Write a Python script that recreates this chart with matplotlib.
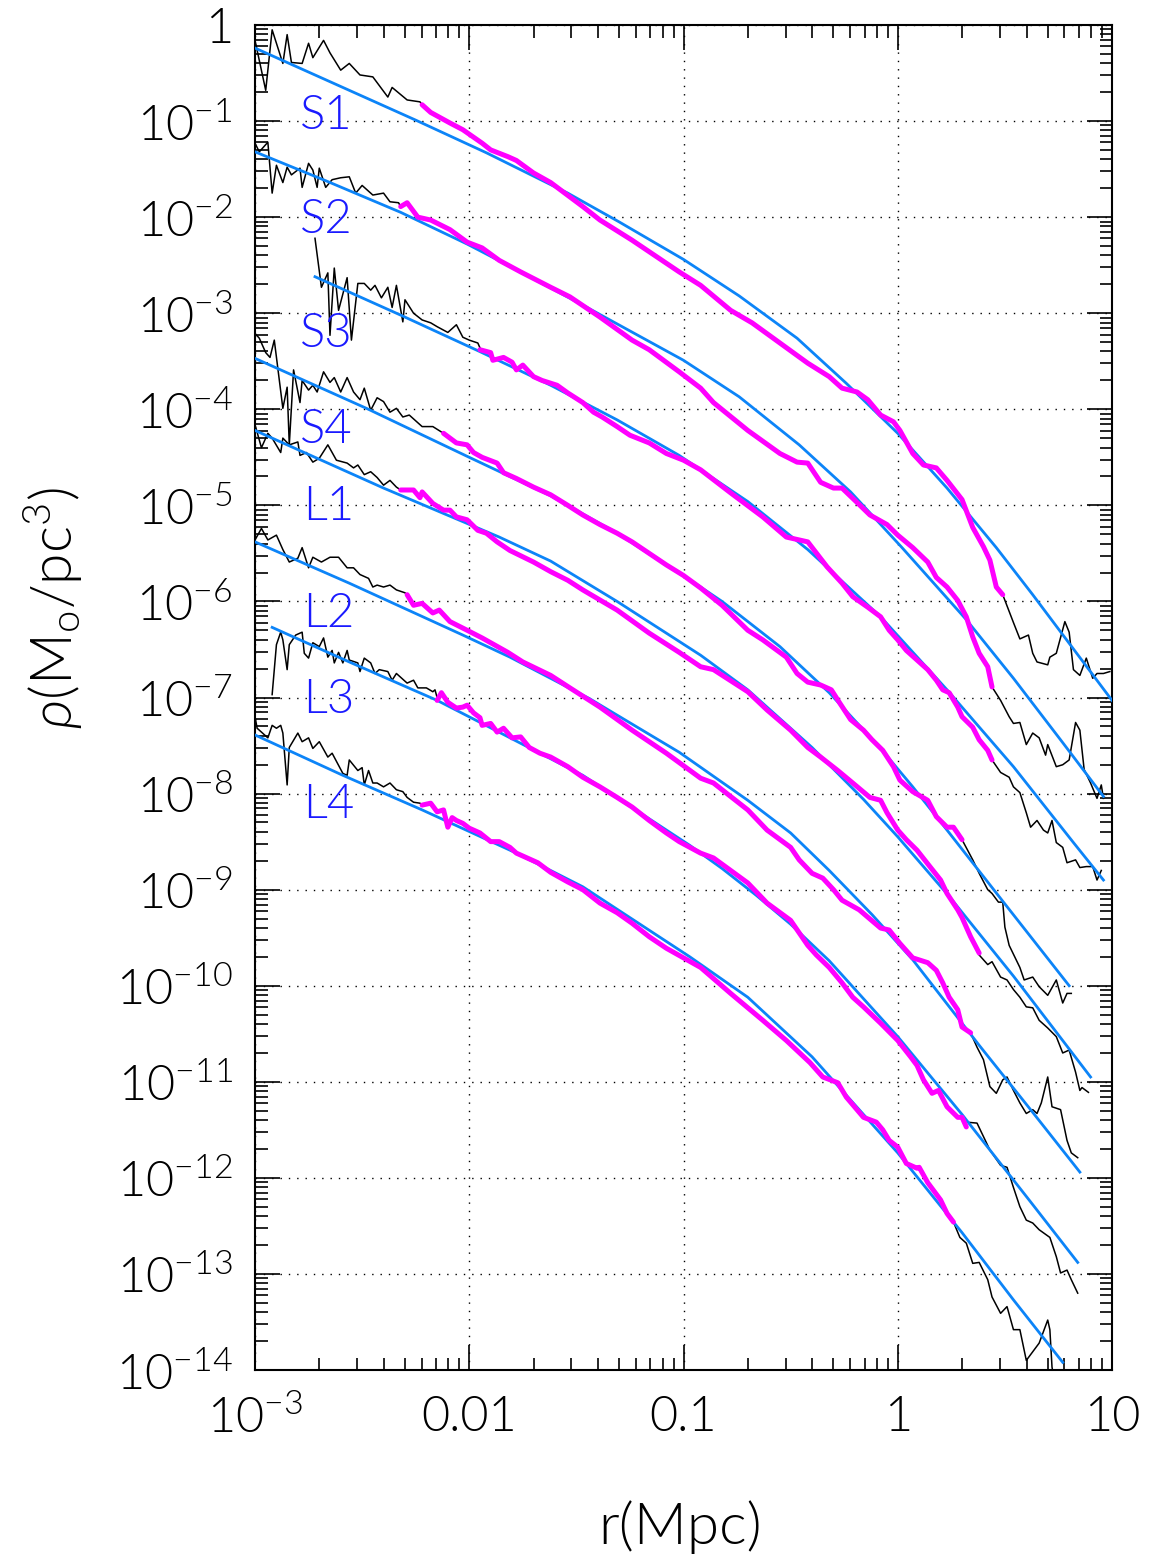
import numpy as np
import matplotlib
matplotlib.use("Agg")
import matplotlib.pyplot as plt
from matplotlib.ticker import FixedLocator, LogLocator, NullFormatter, FixedFormatter

plt.rcParams['font.family'] = ['Lato', 'DejaVu Sans']
plt.rcParams['mathtext.fontset'] = 'custom'
plt.rcParams['mathtext.rm'] = 'Lato:weight=300'
plt.rcParams['mathtext.it'] = 'Lato:italic:weight=300'
plt.rcParams['mathtext.bf'] = 'Lato:bold'
FW = 300

# ---------------- data (log10 r [Mpc], log10 rho [Mo/pc^3]) ----------------
# S1
S1_in_r = [-3.00,-2.95,-2.92,-2.87,-2.85,-2.83,-2.78,-2.75,-2.73,-2.68,-2.65,-2.60,-2.56,-2.51,-2.45,-2.38,-2.36,-2.29,-2.23,-2.22]
S1_in_rho = [-0.16,-0.68,-0.05,-0.40,-0.10,-0.39,-0.40,-0.19,-0.34,-0.16,-0.29,-0.47,-0.40,-0.52,-0.54,-0.75,-0.65,-0.78,-0.80,-0.83]
S1_mid_r = [-2.22,-2.18,-2.09,-2.03,-1.94,-1.90,-1.82,-1.78,-1.70,-1.62,-1.53,-1.47,-1.39,-1.24,-1.08,-1.02,-0.92,-0.78,-0.68,-0.55,
            -0.42,-0.32,-0.26,-0.19,-0.14,-0.08,-0.02,0.01,0.07,0.12,0.18,0.23,0.30,0.35,0.40,0.43,0.46,0.49]
S1_mid_rho = [-0.83,-0.91,-1.02,-1.09,-1.23,-1.30,-1.37,-1.41,-1.54,-1.64,-1.79,-1.89,-2.03,-2.24,-2.48,-2.57,-2.71,-2.97,-3.10,-3.31,
              -3.52,-3.66,-3.78,-3.82,-3.90,-4.06,-4.13,-4.22,-4.46,-4.58,-4.61,-4.74,-4.94,-5.23,-5.43,-5.57,-5.85,-5.93]
S1_out_r = [0.49,0.54,0.57,0.61,0.63,0.65,0.70,0.71,0.74,0.78,0.80,0.82,0.85,0.88,0.91,0.93,0.96,0.99]
S1_out_rho = [-5.93,-6.22,-6.39,-6.35,-6.54,-6.63,-6.66,-6.58,-6.54,-6.21,-6.32,-6.71,-6.77,-6.59,-6.80,-6.75,-6.75,-6.73]
S1_fit_r = [-3.00,-2.25,-1.92,-1.54,-1.30,-1.00,-0.74,-0.47,-0.24,0.00,0.23,0.46,0.63,1.00]
S1_fit_rho = [-0.24,-0.99,-1.33,-1.75,-2.05,-2.44,-2.82,-3.26,-3.73,-4.25,-4.82,-5.44,-5.93,-7.03]

# S2
S2_in_r = [-3.00,-2.98,-2.94,-2.92,-2.90,-2.87,-2.85,-2.83,-2.79,-2.78,-2.75,-2.73,-2.71,-2.70,-2.67,-2.64,-2.60,-2.56,-2.53,-2.50,-2.45,-2.40,-2.37,-2.33,-2.32]
S2_in_rho = [-1.23,-1.32,-1.22,-1.75,-1.46,-1.64,-1.48,-1.56,-1.49,-1.69,-1.44,-1.51,-1.69,-1.49,-1.69,-1.61,-1.59,-1.58,-1.75,-1.67,-1.77,-1.75,-1.84,-1.85,-1.89]
S2_mid_r = [-2.32,-2.29,-2.24,-2.18,-2.09,-2.01,-1.94,-1.86,-1.76,-1.62,-1.53,-1.39,-1.24,-1.16,-1.02,-0.92,-0.86,-0.70,-0.55,-0.47,
            -0.42,-0.36,-0.30,-0.26,-0.19,-0.13,-0.05,0.00,0.07,0.14,0.18,0.23,0.28,0.32,0.35,0.38,0.42,0.44]
S2_mid_rho = [-1.89,-1.85,-2.00,-2.03,-2.13,-2.26,-2.32,-2.45,-2.57,-2.73,-2.83,-3.04,-3.28,-3.38,-3.61,-3.78,-3.93,-4.22,-4.46,-4.55,
              -4.56,-4.76,-4.82,-4.82,-4.97,-5.10,-5.20,-5.31,-5.44,-5.59,-5.75,-5.85,-5.99,-6.16,-6.37,-6.54,-6.68,-6.89]
S2_out_r = [0.44,0.48,0.52,0.54,0.57,0.60,0.63,0.66,0.69,0.70,0.74,0.77,0.80,0.83,0.85,0.87,0.90,0.93,0.95,0.96]
S2_out_rho = [-6.89,-7.03,-7.20,-7.27,-7.26,-7.49,-7.37,-7.42,-7.60,-7.49,-7.72,-7.70,-7.65,-7.26,-7.34,-7.75,-7.89,-8.05,-7.91,-8.05]
S2_fit_r = [-3.00,-2.66,-2.32,-2.01,-1.76,-1.45,-1.00,-0.74,-0.46,-0.22,0.02,0.32,0.54,0.77,0.96]
S2_fit_rho = [-1.32,-1.63,-1.95,-2.28,-2.57,-2.94,-3.49,-3.87,-4.37,-4.86,-5.44,-6.19,-6.80,-7.47,-8.03]

# S3
S3_in_r = [-2.72,-2.69,-2.66,-2.65,-2.63,-2.61,-2.57,-2.55,-2.52,-2.49,-2.46,-2.44,-2.41,-2.38,-2.36,-2.34,-2.31,-2.30,-2.26,-2.22,
           -2.18,-2.15,-2.10,-2.06,-2.03,-2.00,-1.96,-1.95]
S3_in_rho = [-2.22,-2.73,-2.58,-3.23,-2.53,-2.97,-2.63,-3.28,-2.69,-2.69,-2.76,-2.71,-2.84,-2.73,-2.94,-2.71,-3.09,-2.86,-3.00,-3.07,
             -3.10,-3.14,-3.20,-3.12,-3.25,-3.28,-3.31,-3.36]
S3_mid_r = [-1.95,-1.90,-1.89,-1.84,-1.80,-1.78,-1.75,-1.70,-1.66,-1.59,-1.54,-1.47,-1.42,-1.38,-1.31,-1.25,-1.16,-1.08,-1.00,-0.92,
            -0.78,-0.63,-0.52,-0.42,-0.33,-0.26,-0.21,-0.14,-0.08,-0.04,0.00,0.04,0.09,0.14,0.18,0.21,0.24,0.28,0.30,0.35,0.38,0.42,0.44]
S3_mid_rho = [-3.38,-3.41,-3.49,-3.46,-3.51,-3.59,-3.54,-3.66,-3.70,-3.75,-3.83,-3.93,-4.03,-4.08,-4.18,-4.27,-4.35,-4.46,-4.53,-4.63,
              -4.87,-5.12,-5.33,-5.38,-5.64,-5.81,-5.95,-6.06,-6.16,-6.30,-6.40,-6.51,-6.61,-6.71,-6.82,-6.92,-6.95,-7.10,-7.20,-7.31,-7.44,-7.55,-7.65]
S3_out_r = [0.44,0.48,0.52,0.54,0.57,0.60,0.62,0.65,0.68,0.70,0.72,0.74,0.77,0.79,0.83,0.85,0.88,0.91,0.93,0.95]
S3_out_rho = [-7.65,-7.78,-7.83,-7.93,-7.99,-8.20,-8.35,-8.28,-8.38,-8.41,-8.28,-8.51,-8.56,-8.72,-8.69,-8.77,-8.76,-8.76,-8.90,-8.80]
S3_fit_r = [-2.72,-2.32,-1.95,-1.62,-1.31,-1.02,-0.70,-0.42,-0.08,0.23,0.54,0.82,0.96]
S3_fit_rho = [-2.62,-3.02,-3.40,-3.75,-4.11,-4.48,-4.96,-5.46,-6.16,-6.92,-7.72,-8.51,-8.90]

# S4
S4_in_r = [-3.00,-2.98,-2.95,-2.93,-2.91,-2.87,-2.85,-2.84,-2.82,-2.79,-2.78,-2.75,-2.73,-2.71,-2.68,-2.65,-2.63,-2.60,-2.57,-2.54,
           -2.51,-2.49,-2.46,-2.43,-2.40,-2.37,-2.34,-2.31,-2.28,-2.24,-2.22,-2.17,-2.12]
S4_in_rho = [-3.21,-3.26,-3.41,-3.46,-3.28,-3.99,-3.77,-4.37,-3.59,-3.93,-3.70,-3.80,-3.75,-3.82,-3.61,-3.72,-3.67,-3.82,-3.67,-3.82,
             -3.90,-3.78,-4.01,-3.88,-3.92,-4.03,-3.99,-4.08,-4.06,-4.14,-4.18,-4.18,-4.25]
S4_mid_r = [-2.12,-2.06,-2.01,-1.98,-1.94,-1.87,-1.84,-1.78,-1.70,-1.62,-1.54,-1.47,-1.39,-1.31,-1.24,-1.16,-1.08,-1.00,-0.92,-0.82,
            -0.70,-0.63,-0.52,-0.47,-0.42,-0.36,-0.31,-0.27,-0.22,-0.16,-0.12,-0.07,-0.02,0.01,0.07,0.14,0.18,0.23,0.26,0.30]
S4_mid_rho = [-4.25,-4.35,-4.37,-4.45,-4.50,-4.56,-4.66,-4.72,-4.81,-4.89,-5.00,-5.10,-5.20,-5.29,-5.38,-5.50,-5.62,-5.73,-5.86,-6.04,
              -6.30,-6.40,-6.58,-6.75,-6.84,-6.87,-6.92,-7.06,-7.23,-7.34,-7.44,-7.55,-7.72,-7.86,-7.98,-8.07,-8.24,-8.35,-8.35,-8.48]
S4_out_r = [0.30,0.35,0.38,0.42,0.44,0.47,0.49,0.50,0.52,0.57,0.59,0.63,0.66,0.70,0.74,0.77,0.79,0.81]
S4_out_rho = [-8.48,-8.69,-8.83,-9.00,-9.04,-9.13,-9.13,-9.39,-9.58,-9.81,-9.94,-9.91,-10.01,-10.10,-9.94,-10.18,-10.08,-10.08]
S4_fit_r = [-3.00,-2.48,-2.00,-1.62,-1.31,-0.92,-0.82,-0.55,-0.32,-0.08,0.07,0.23,0.49,0.80]
S4_fit_rho = [-3.47,-3.99,-4.50,-4.90,-5.29,-5.85,-6.00,-6.47,-6.95,-7.53,-7.93,-8.38,-9.12,-10.00]

# L1
L1_in_r = [-3.00,-2.97,-2.94,-2.92,-2.88,-2.87,-2.84,-2.80,-2.79,-2.76,-2.73,-2.70,-2.66,-2.62,-2.57,-2.54,-2.52,-2.49,-2.46,-2.43,-2.40,-2.37,-2.34,-2.32]
L1_in_rho = [-4.16,-4.40,-4.25,-4.30,-4.45,-4.30,-4.37,-4.34,-4.48,-4.45,-4.55,-4.51,-4.37,-4.53,-4.56,-4.61,-4.58,-4.68,-4.65,-4.71,-4.79,-4.74,-4.81,-4.84]
L1_mid_r = [-2.32,-2.26,-2.23,-2.22,-2.17,-2.12,-2.09,-2.06,-2.01,-1.96,-1.92,-1.87,-1.81,-1.70,-1.62,-1.54,-1.47,-1.31,-1.16,-1.02,
            -0.92,-0.86,-0.70,-0.61,-0.50,-0.42,-0.36,-0.28,-0.21,-0.13,-0.08,-0.05,0.00,0.04,0.09,0.15,0.20,0.23,0.28,0.30,0.34,0.38]
L1_mid_rho = [-4.84,-4.84,-4.92,-4.86,-4.98,-5.05,-5.05,-5.12,-5.15,-5.26,-5.29,-5.38,-5.47,-5.59,-5.69,-5.78,-5.88,-6.09,-6.33,-6.53,
              -6.68,-6.71,-6.94,-7.13,-7.34,-7.52,-7.62,-7.76,-7.89,-8.04,-8.07,-8.20,-8.38,-8.48,-8.59,-8.76,-8.90,-9.04,-9.21,-9.29,-9.49,-9.66]
L1_out_r = [0.38,0.42,0.44,0.48,0.51,0.54,0.57,0.60,0.63,0.66,0.70,0.74,0.77,0.80,0.83,0.85,0.86,0.89]
L1_out_rho = [-9.68,-9.78,-9.75,-9.91,-9.94,-10.04,-10.12,-10.22,-10.23,-10.36,-10.44,-10.53,-10.70,-10.67,-10.90,-11.09,-11.06,-11.11]
L1_fit_r = [-3.00,-2.40,-1.86,-1.62,-1.31,-0.92,-0.70,-0.40,-0.16,0.00,0.24,0.54,0.90]
L1_fit_rho = [-4.22,-4.82,-5.33,-5.58,-6.00,-6.56,-6.92,-7.52,-8.06,-8.45,-9.07,-9.90,-10.95]

# L2
L2_in_r = [-3.00,-2.97,-2.94,-2.90,-2.87,-2.84,-2.80,-2.78,-2.75,-2.73,-2.69,-2.65,-2.61,-2.57,-2.54,-2.51,-2.47,-2.45,-2.43,-2.40,-2.37,-2.34,-2.30,-2.29]
L2_in_rho = [-5.36,-5.24,-5.36,-5.31,-5.46,-5.59,-5.55,-5.44,-5.65,-5.54,-5.59,-5.54,-5.54,-5.65,-5.65,-5.72,-5.76,-5.85,-5.83,-5.85,-5.83,-5.88,-5.91,-5.93]
L2_mid_r = [-2.29,-2.26,-2.22,-2.17,-2.14,-2.09,-2.01,-1.94,-1.82,-1.75,-1.62,-1.53,-1.39,-1.24,-1.08,-0.92,-0.86,-0.70,-0.61,-0.50,
            -0.46,-0.40,-0.35,-0.30,-0.26,-0.18,-0.08,-0.04,0.01,0.07,0.14,0.18,0.21,0.24,0.28,0.30,0.34]
L2_mid_rho = [-5.93,-6.04,-6.02,-6.12,-6.09,-6.21,-6.30,-6.38,-6.53,-6.63,-6.77,-6.90,-7.10,-7.34,-7.58,-7.84,-7.89,-8.17,-8.38,-8.56,
              -8.69,-8.83,-8.88,-9.00,-9.11,-9.21,-9.40,-9.42,-9.56,-9.71,-9.76,-9.84,-9.97,-10.12,-10.25,-10.43,-10.49]
L2_out_r = [0.34,0.37,0.40,0.43,0.46,0.49,0.51,0.54,0.57,0.60,0.63,0.65,0.67,0.70,0.72,0.76,0.79,0.81,0.84]
L2_out_rho = [-10.49,-10.64,-10.77,-11.05,-11.12,-10.98,-10.95,-11.09,-11.22,-11.33,-11.29,-11.33,-11.22,-10.95,-11.26,-11.29,-11.61,-11.74,-11.79]
L2_fit_r = [-3.00,-2.56,-2.03,-1.81,-1.44,-1.02,-0.70,-0.50,-0.32,-0.12,0.07,0.38,0.62,0.85]
L2_fit_rho = [-5.38,-5.81,-6.35,-6.58,-7.01,-7.57,-8.07,-8.41,-8.80,-9.26,-9.73,-10.62,-11.29,-11.94]

# L3
L3_in_r = [-2.92,-2.90,-2.88,-2.87,-2.85,-2.84,-2.81,-2.78,-2.77,-2.75,-2.73,-2.70,-2.68,-2.66,-2.64,-2.63,-2.61,-2.59,-2.57,-2.56,
           -2.52,-2.51,-2.49,-2.46,-2.44,-2.42,-2.38,-2.36,-2.34,-2.29,-2.26,-2.24,-2.20,-2.17,-2.16,-2.15]
L3_in_rho = [-6.97,-6.45,-6.32,-6.40,-6.71,-6.45,-6.35,-6.32,-6.54,-6.59,-6.43,-6.47,-6.38,-6.58,-6.51,-6.64,-6.53,-6.64,-6.51,-6.61,
             -6.64,-6.73,-6.59,-6.64,-6.75,-6.71,-6.73,-6.82,-6.75,-6.85,-6.82,-6.90,-6.90,-6.94,-6.92,-7.00]
L3_mid_r = [-2.15,-2.13,-2.10,-2.08,-2.06,-2.03,-2.01,-1.98,-1.95,-1.94,-1.90,-1.87,-1.84,-1.80,-1.76,-1.72,-1.67,-1.62,-1.54,-1.47,
            -1.39,-1.31,-1.24,-1.16,-1.08,-1.02,-0.92,-0.86,-0.70,-0.61,-0.50,-0.42,-0.38,-0.32,-0.26,-0.21,-0.16,-0.08,0.00,0.06,
            0.09,0.12,0.16,0.19,0.23,0.28,0.30,0.32]
L3_mid_rho = [-7.03,-6.95,-7.05,-7.08,-7.11,-7.10,-7.08,-7.16,-7.21,-7.29,-7.27,-7.36,-7.32,-7.42,-7.41,-7.52,-7.58,-7.62,-7.72,-7.83,
              -7.93,-8.04,-8.14,-8.28,-8.41,-8.50,-8.62,-8.67,-8.93,-9.14,-9.32,-9.58,-9.68,-9.81,-9.97,-10.12,-10.22,-10.39,-10.57,-10.74,
              -10.83,-10.98,-11.12,-11.09,-11.26,-11.37,-11.37,-11.47]
L3_out_r = [0.32,0.37,0.40,0.43,0.48,0.51,0.54,0.57,0.60,0.63,0.66,0.71,0.74,0.76,0.79,0.81,0.84]
L3_out_rho = [-11.42,-11.43,-11.57,-11.71,-11.87,-11.89,-12.10,-12.30,-12.44,-12.47,-12.54,-12.62,-12.82,-12.99,-12.96,-13.06,-13.20]
L3_fit_r = [-2.92,-2.56,-2.15,-1.94,-1.47,-0.97,-0.82,-0.66,-0.50,-0.32,0.00,0.30,0.62,0.84]
L3_fit_rho = [-6.27,-6.63,-7.03,-7.27,-7.81,-8.54,-8.78,-9.06,-9.36,-9.74,-10.53,-11.34,-12.25,-12.88]

# L4
L4_in_r = [-3.00,-2.99,-2.94,-2.92,-2.90,-2.88,-2.87,-2.85,-2.84,-2.80,-2.78,-2.75,-2.73,-2.70,-2.66,-2.64,-2.59,-2.57,-2.56,-2.52,
           -2.50,-2.49,-2.47,-2.45,-2.43,-2.40,-2.37,-2.34,-2.31,-2.29,-2.26,-2.23,-2.22]
L4_in_rho = [-7.20,-7.32,-7.42,-7.29,-7.32,-7.29,-7.37,-7.91,-7.52,-7.37,-7.46,-7.42,-7.53,-7.46,-7.62,-7.58,-7.79,-7.81,-7.65,-7.76,
             -7.73,-7.91,-7.76,-7.89,-7.89,-7.93,-7.89,-7.96,-7.98,-8.04,-8.09,-8.10,-8.12]
L4_mid_r = [-2.22,-2.18,-2.15,-2.12,-2.10,-2.08,-2.06,-2.03,-2.00,-1.95,-1.90,-1.86,-1.81,-1.78,-1.73,-1.68,-1.62,-1.54,-1.47,-1.39,
            -1.31,-1.24,-1.16,-1.08,-1.00,-0.92,-0.78,-0.63,-0.52,-0.41,-0.35,-0.28,-0.24,-0.16,-0.10,-0.07,-0.04,0.00,0.04,0.09,
            0.10,0.14,0.20,0.23,0.26]
L4_mid_rho = [-8.12,-8.10,-8.19,-8.17,-8.35,-8.25,-8.28,-8.31,-8.36,-8.41,-8.50,-8.50,-8.56,-8.62,-8.67,-8.72,-8.82,-8.92,-9.00,-9.14,
              -9.24,-9.35,-9.49,-9.61,-9.71,-9.81,-10.08,-10.36,-10.57,-10.80,-10.95,-11.01,-11.16,-11.37,-11.42,-11.50,-11.61,-11.68,-11.85,-11.90,
              -11.89,-12.05,-12.23,-12.37,-12.46]
L4_out_r = [0.26,0.29,0.32,0.35,0.38,0.42,0.44,0.48,0.51,0.54,0.57,0.60,0.63,0.66,0.70,0.71,0.72,0.73]
L4_out_rho = [-12.46,-12.62,-12.68,-12.89,-12.88,-13.06,-13.24,-13.41,-13.34,-13.58,-13.58,-13.90,-13.81,-13.72,-13.48,-13.58,-13.97,-14.10]
L4_fit_r = [-3.00,-2.59,-2.22,-1.78,-1.47,-0.97,-0.70,-0.40,0.00,0.30,0.54,0.77]
L4_fit_rho = [-7.39,-7.81,-8.17,-8.62,-8.97,-9.70,-10.12,-10.74,-11.74,-12.57,-13.27,-13.92]

names = ['S1', 'S2', 'S3', 'S4', 'L1', 'L2', 'L3', 'L4']
x_ticks = [1e-3, 1e-2, 1e-1, 1, 10]
x_ticklabels = [r'$10^{-3}$', '0.01', '0.1', '1', '10']
y_exps = list(range(0, -15, -1))
y_ticklabels = ['1'] + [r'$10^{%d}$' % e for e in y_exps[1:]]

# label placement (axes fraction)
label_pos = {'S1': (0.052, 0.932), 'S2': (0.052, 0.855), 'S3': (0.052, 0.770), 'S4': (0.052, 0.699),
             'L1': (0.056, 0.642), 'L2': (0.056, 0.562), 'L3': (0.056, 0.498), 'L4': (0.056, 0.420)}

curves = {
    'S1': (S1_in_r, S1_in_rho, S1_mid_r, S1_mid_rho, S1_out_r, S1_out_rho, S1_fit_r, S1_fit_rho),
    'S2': (S2_in_r, S2_in_rho, S2_mid_r, S2_mid_rho, S2_out_r, S2_out_rho, S2_fit_r, S2_fit_rho),
    'S3': (S3_in_r, S3_in_rho, S3_mid_r, S3_mid_rho, S3_out_r, S3_out_rho, S3_fit_r, S3_fit_rho),
    'S4': (S4_in_r, S4_in_rho, S4_mid_r, S4_mid_rho, S4_out_r, S4_out_rho, S4_fit_r, S4_fit_rho),
    'L1': (L1_in_r, L1_in_rho, L1_mid_r, L1_mid_rho, L1_out_r, L1_out_rho, L1_fit_r, L1_fit_rho),
    'L2': (L2_in_r, L2_in_rho, L2_mid_r, L2_mid_rho, L2_out_r, L2_out_rho, L2_fit_r, L2_fit_rho),
    'L3': (L3_in_r, L3_in_rho, L3_mid_r, L3_mid_rho, L3_out_r, L3_out_rho, L3_fit_r, L3_fit_rho),
    'L4': (L4_in_r, L4_in_rho, L4_mid_r, L4_mid_rho, L4_out_r, L4_out_rho, L4_fit_r, L4_fit_rho),
}

BLUE_FIT = '#0c84f8'
MAGENTA = '#ff00ff'
LABEL_BLUE = '#1a1aff'

def p(a):
    return np.power(10.0, np.asarray(a, dtype=float))

fig = plt.figure(figsize=(11.51, 15.57), dpi=100)
ax = fig.add_axes([0.22155, 0.12010, 0.74457, 0.86384])
ax.set_xscale('log')
ax.set_yscale('log')

for n in names:
    ir, irho, mr, mrho, orr, orho, fr, frho = curves[n]
    ax.plot(p(ir), p(irho), color='black', lw=1.1, zorder=3)
    ax.plot(p(orr), p(orho), color='black', lw=1.1, zorder=3)
    ax.plot(p(fr), p(frho), color=BLUE_FIT, lw=2.0, zorder=4)
    ax.plot(p(mr), p(mrho), color=MAGENTA, lw=3.6, zorder=5,
            solid_joinstyle='round', solid_capstyle='round')
    lx, ly = label_pos[n]
    ax.text(lx, ly, n, transform=ax.transAxes, color=LABEL_BLUE, fontsize=34,
            ha='left', va='center', fontweight=FW, zorder=6)

ax.set_xlim(1e-3, 10)
ax.set_ylim(1e-14, 1)

ax.xaxis.set_major_locator(FixedLocator(x_ticks))
ax.xaxis.set_major_formatter(FixedFormatter(x_ticklabels))
ax.xaxis.set_minor_locator(LogLocator(base=10, subs=np.arange(2, 10), numticks=100))
ax.xaxis.set_minor_formatter(NullFormatter())
ax.yaxis.set_major_locator(FixedLocator([10.0 ** e for e in y_exps]))
ax.yaxis.set_major_formatter(FixedFormatter(y_ticklabels))
ax.yaxis.set_minor_locator(LogLocator(base=10, subs=np.arange(2, 10), numticks=100))
ax.yaxis.set_minor_formatter(NullFormatter())

ax.tick_params(which='both', direction='in', top=True, right=True, width=1.2, color='black')
ax.tick_params(which='major', length=18)
ax.tick_params(which='minor', length=9)
ax.tick_params(axis='y', which='major', labelsize=35, pad=16)
ax.tick_params(axis='x', which='major', labelsize=35, pad=18)
for lab in ax.get_xticklabels() + ax.get_yticklabels():
    lab.set_fontweight(FW)

ax.grid(True, which='major', color='black', linestyle=(0, (1, 5)), linewidth=1.0, zorder=1)
for s in ax.spines.values():
    s.set_linewidth(1.5)

fig.text(52 / 1151, 1 - 608 / 1557, r'$\rho$(M$_{\rm o}$/pc$^3$)', rotation=90,
         ha='center', va='center', fontsize=41, fontweight=FW)
fig.text(680 / 1151, 1 - 1527 / 1557, 'r(Mpc)', ha='center', va='center',
         fontsize=42, fontweight=FW)

fig.savefig('out.png', dpi=100)
